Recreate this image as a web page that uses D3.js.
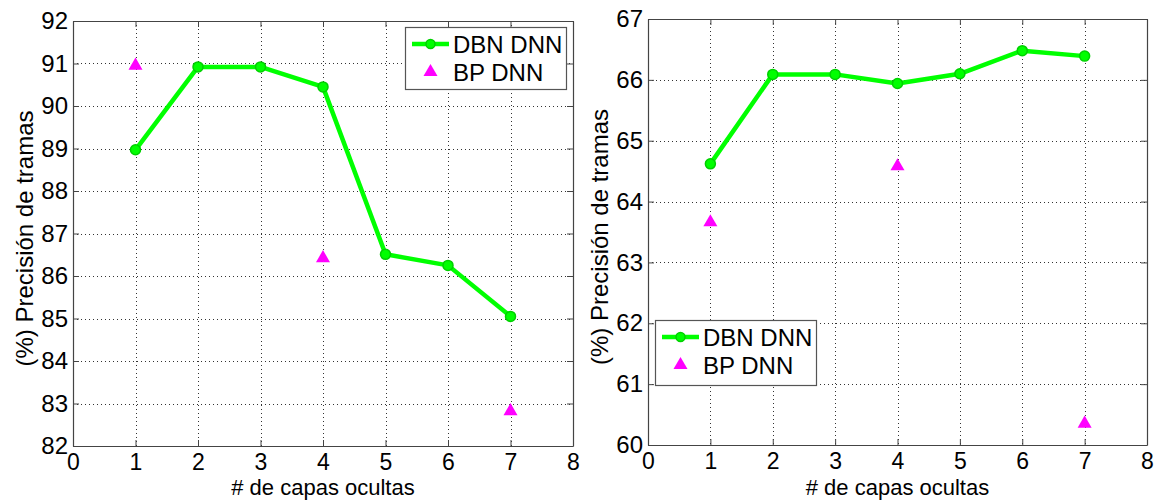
<!DOCTYPE html>
<html>
<head>
<meta charset="utf-8">
<script src="https://cdn.jsdelivr.net/npm/d3@7"></script>
<style>
  html, body { margin: 0; padding: 0; background: #fff; }
  svg { display: block; }
  text { font-family: "Liberation Sans", Arial, Helvetica, sans-serif; fill: #000; }
</style>
</head>
<body>
<svg id="chart" width="1157" height="500"></svg>
<script>
// ---- data ----
const layers = [1, 2, 3, 4, 5, 6, 7];
const xTicks = [0, 1, 2, 3, 4, 5, 6, 7, 8];
const bpLayers = [1, 4, 7];

const leftDBN = [88.97, 90.92, 90.92, 90.45, 86.51, 86.25, 85.05];
const leftBP = [90.95, 86.42, 82.82];
const leftYTicks = [82, 83, 84, 85, 86, 87, 88, 89, 90, 91, 92];

const rightDBN = [64.62, 66.09, 66.09, 65.94, 66.10, 66.48, 66.39];
const rightBP = [63.66, 64.58, 60.35];
const rightYTicks = [60, 61, 62, 63, 64, 65, 66, 67];

const seriesNames = ["DBN DNN", "BP DNN"];
const xLabel = "# de capas ocultas";
const yLabel = "(%) Precisión de tramas";

const svg = d3.select("#chart");

function panel(cfg) {
  const x = d3.scaleLinear().domain([0, 8]).range([cfg.left, cfg.right]);
  const y = d3.scaleLinear().domain([cfg.yTicks[0], cfg.yTicks[cfg.yTicks.length - 1]]).range([cfg.bottom, cfg.top]);
  const g = svg.append("g");

  // grid
  const grid = g.append("g").attr("stroke", "#333").attr("stroke-width", 1).attr("stroke-dasharray", "1,3");
  grid.selectAll("line.gx").data(xTicks.slice(1, -1)).join("line")
    .attr("x1", d => Math.round(x(d)) + 0.5).attr("x2", d => Math.round(x(d)) + 0.5)
    .attr("y1", cfg.top).attr("y2", cfg.bottom);
  grid.selectAll("line.gy").data(cfg.yTicks.slice(1, -1)).join("line")
    .attr("y1", d => Math.round(y(d)) + 0.5).attr("y2", d => Math.round(y(d)) + 0.5)
    .attr("x1", cfg.left).attr("x2", cfg.right);

  // axes (ticks inward, MATLAB style)
  const axColor = "#444";
  const tl = 6;
  const fmt = d3.format("d");
  const bottomAxis = d3.axisBottom(x).tickValues(xTicks).tickFormat(fmt).tickSizeInner(-tl).tickSizeOuter(0).tickPadding(8);
  const topAxis = d3.axisTop(x).tickValues(xTicks).tickSizeInner(-tl).tickSizeOuter(0).tickFormat("");
  const leftAxis = d3.axisLeft(y).tickValues(cfg.yTicks).tickFormat(fmt).tickSizeInner(-tl).tickSizeOuter(0).tickPadding(5);
  const rightAxis = d3.axisRight(y).tickValues(cfg.yTicks).tickSizeInner(-tl).tickSizeOuter(0).tickFormat("");

  const gb = g.append("g").attr("transform", `translate(0,${cfg.bottom})`).call(bottomAxis);
  const gt = g.append("g").attr("transform", `translate(0,${cfg.top})`).call(topAxis);
  const gl = g.append("g").attr("transform", `translate(${cfg.left},0)`).call(leftAxis);
  const gr = g.append("g").attr("transform", `translate(${cfg.right},0)`).call(rightAxis);
  [gb, gt, gl, gr].forEach(a => {
    a.selectAll(".domain").attr("stroke", axColor).attr("stroke-width", 1.2);
    a.selectAll(".tick line").attr("stroke", axColor);
    a.selectAll("text").style("font-size", "24px").style("font-family", "Liberation Sans, Arial, sans-serif").attr("fill", "#000");
  });
  gb.selectAll("text").style("font-size", "23px").attr("dy", "0.71em");

  // axis labels
  g.append("text").attr("x", (cfg.left + cfg.right) / 2).attr("y", 495)
    .attr("text-anchor", "middle").style("font-size", "22px").text(xLabel);
  g.append("text").attr("transform", `translate(${cfg.left - 40},${(cfg.top + cfg.bottom) / 2 + 5}) rotate(-90)`)
    .attr("text-anchor", "middle").style("font-size", "24px").text(yLabel);

  // DBN line
  const line = d3.line().x((d, i) => x(layers[i])).y(d => y(d));
  g.append("path").datum(cfg.dbn).attr("d", line)
    .attr("fill", "none").attr("stroke", "#00ff00").attr("stroke-width", 4.5).attr("stroke-linejoin", "round");
  g.selectAll("circle.dbn").data(cfg.dbn).join("circle")
    .attr("cx", (d, i) => x(layers[i])).attr("cy", d => y(d)).attr("r", 5)
    .attr("fill", "#00ff00").attr("stroke", "#00d000").attr("stroke-width", 1.5);

  // BP triangles
  const tri = d3.symbol().type(d3.symbolTriangle).size(85);
  g.selectAll("path.bp").data(cfg.bp).join("path")
    .attr("transform", (d, i) => `translate(${x(bpLayers[i])},${y(d)})`)
    .attr("d", tri).attr("fill", "#ff00ff");

  // legend
  const L = cfg.legend;
  const lg = g.append("g").attr("transform", `translate(${L.x},${L.y})`);
  lg.append("rect").attr("x", 0.5).attr("y", 0.5).attr("width", L.w).attr("height", L.h)
    .attr("fill", "#fff").attr("stroke", "#555").attr("stroke-width", 1.2);
  lg.append("line").attr("x1", 7).attr("x2", 44).attr("y1", 17).attr("y2", 17)
    .attr("stroke", "#00ff00").attr("stroke-width", 4.5);
  lg.append("circle").attr("cx", 25.5).attr("cy", 17).attr("r", 4.5)
    .attr("fill", "#00ff00").attr("stroke", "#00d000").attr("stroke-width", 1.5);
  lg.append("path").attr("transform", "translate(25.5,45)").attr("d", tri).attr("fill", "#ff00ff");
  lg.selectAll("text.lt").data(seriesNames).join("text")
    .attr("x", 48).attr("y", (d, i) => 25.5 + i * 28)
    .style("font-size", "24px").text(d => d);
}

panel({
  left: 73, right: 573, top: 21, bottom: 446,
  yTicks: leftYTicks, dbn: leftDBN, bp: leftBP,
  legend: { x: 405, y: 27, w: 161, h: 62 }
});
panel({
  left: 648, right: 1147, top: 19, bottom: 445,
  yTicks: rightYTicks, dbn: rightDBN, bp: rightBP,
  legend: { x: 655, y: 320, w: 161, h: 65 }
});
</script>
</body>
</html>
